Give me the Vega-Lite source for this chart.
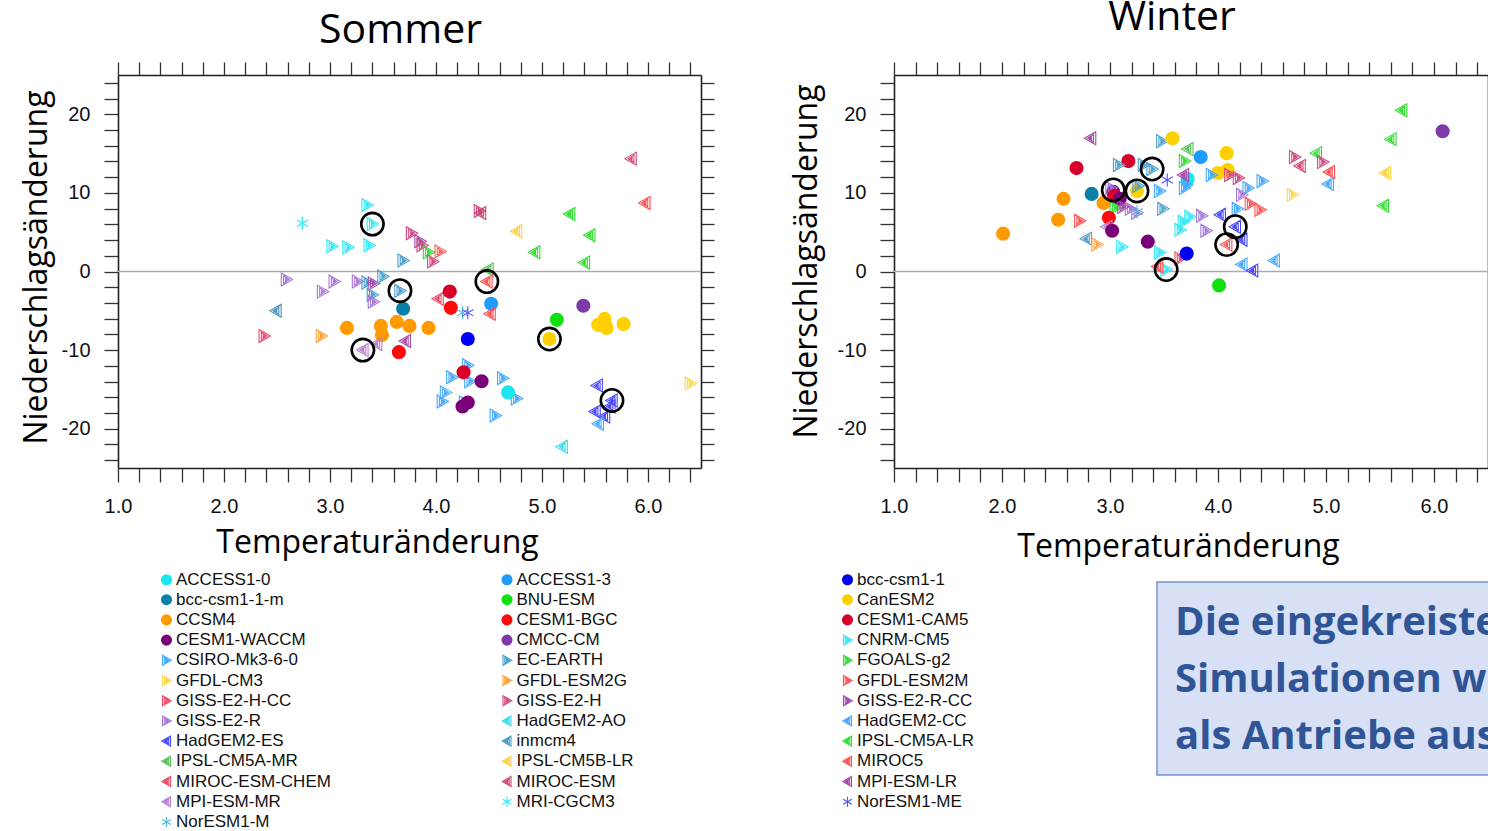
{
"$schema": "https://vega.github.io/schema/vega-lite/v6.json",
"autosize": {"type": "none"},
"padding": {"left": 118, "top": 75, "right": 1370, "bottom": 756},
"background": "white",
"config": {
  "view": {"stroke": null},
  "axis": {"domainColor": "#222", "domainWidth": 1.6, "tickColor": "#333", "tickWidth": 1.3, "grid": false,
    "labelFont": "Liberation Sans", "labelFontSize": 20, "labelColor": "#111", "labelOverlap": false, "labelFlush": false,
    "titleFont": "Open Sans", "titleFontSize": 32, "titleFontWeight": "normal", "titleColor": "#000"},
  "legend": {"symbolLimit": 60}
},
"datasets": {
  "sommer": [
    {"m":"MRI-CGCM3","t":2.74,"p":6.15},{"m":"CNRM-CM5","t":3.35,"p":8.46},{"m":"CNRM-CM5","t":3.40,"p":6.03},
    {"m":"CNRM-CM5","t":3.02,"p":3.21},{"m":"CNRM-CM5","t":3.17,"p":3.08},{"m":"CNRM-CM5","t":3.37,"p":3.33},
    {"m":"GISS-E2-H","t":3.77,"p":4.87},{"m":"GISS-E2-R-CC","t":3.85,"p":3.85},{"m":"GISS-E2-H","t":3.87,"p":3.33},
    {"m":"FGOALS-g2","t":3.93,"p":2.44},{"m":"GFDL-ESM2M","t":4.04,"p":2.56},{"m":"GISS-E2-H","t":3.97,"p":1.28},
    {"m":"GISS-E2-H","t":4.41,"p":7.69},{"m":"MIROC-ESM","t":4.42,"p":7.44},{"m":"IPSL-CM5B-LR","t":4.76,"p":5.13},
    {"m":"IPSL-CM5A-LR","t":5.26,"p":7.31},{"m":"IPSL-CM5A-LR","t":5.45,"p":4.62},{"m":"IPSL-CM5A-LR","t":4.93,"p":2.44},
    {"m":"IPSL-CM5A-LR","t":5.40,"p":1.15},{"m":"MIROC-ESM","t":5.84,"p":14.36},{"m":"MIROC5","t":5.97,"p":8.72},
    {"m":"EC-EARTH","t":3.69,"p":1.41},{"m":"GISS-E2-R","t":2.59,"p":-1.03},{"m":"GISS-E2-R","t":3.04,"p":-1.28},
    {"m":"GISS-E2-R","t":2.93,"p":-2.56},{"m":"GISS-E2-R","t":3.26,"p":-1.28},{"m":"EC-EARTH","t":3.35,"p":-1.41},
    {"m":"GISS-E2-R-CC","t":3.41,"p":-1.54},{"m":"EC-EARTH","t":3.50,"p":-0.64},{"m":"EC-EARTH","t":3.66,"p":-2.44},
    {"m":"EC-EARTH","t":3.40,"p":-2.95},{"m":"GISS-E2-R","t":3.41,"p":-3.85},{"m":"inmcm4","t":2.49,"p":-5.0},
    {"m":"bcc-csm1-1-m","t":3.69,"p":-4.74},{"m":"CCSM4","t":3.16,"p":-7.18},{"m":"CCSM4","t":3.48,"p":-6.92},
    {"m":"CCSM4","t":3.49,"p":-8.08},{"m":"CCSM4","t":3.63,"p":-6.41},{"m":"CCSM4","t":3.75,"p":-6.92},
    {"m":"CCSM4","t":3.93,"p":-7.18},{"m":"GISS-E2-H-CC","t":2.38,"p":-8.21},{"m":"GFDL-ESM2G","t":2.92,"p":-8.21},
    {"m":"MPI-ESM-MR","t":3.31,"p":-10.0},{"m":"MPI-ESM-MR","t":3.44,"p":-9.23},{"m":"MPI-ESM-LR","t":3.71,"p":-8.85},
    {"m":"CESM1-BGC","t":3.65,"p":-10.26},{"m":"IPSL-CM5A-MR","t":4.49,"p":0.26},{"m":"MIROC5","t":4.48,"p":-1.28},
    {"m":"MIROC-ESM-CHEM","t":4.02,"p":-3.46},{"m":"CESM1-CAM5","t":4.13,"p":-2.56},{"m":"CESM1-BGC","t":4.14,"p":-4.62},
    {"m":"NorESM1-M","t":4.25,"p":-5.26},{"m":"NorESM1-ME","t":4.30,"p":-5.26},{"m":"ACCESS1-3","t":4.52,"p":-4.10},
    {"m":"MIROC5","t":4.51,"p":-5.38},{"m":"bcc-csm1-1","t":4.30,"p":-8.59},{"m":"BNU-ESM","t":5.14,"p":-6.15},
    {"m":"CMCC-CM","t":5.39,"p":-4.36},{"m":"CanESM2","t":5.07,"p":-8.59},{"m":"CanESM2","t":5.53,"p":-6.79},
    {"m":"CanESM2","t":5.59,"p":-6.03},{"m":"CanESM2","t":5.61,"p":-7.18},{"m":"CanESM2","t":5.77,"p":-6.67},
    {"m":"GFDL-CM3","t":6.40,"p":-14.23},
    {"m":"CSIRO-Mk3-6-0","t":4.30,"p":-11.92},{"m":"CSIRO-Mk3-6-0","t":4.15,"p":-13.46},{"m":"CSIRO-Mk3-6-0","t":4.32,"p":-13.97},
    {"m":"CSIRO-Mk3-6-0","t":4.63,"p":-13.59},{"m":"CSIRO-Mk3-6-0","t":4.09,"p":-15.38},{"m":"CSIRO-Mk3-6-0","t":4.06,"p":-16.54},
    {"m":"CSIRO-Mk3-6-0","t":4.27,"p":-16.67},{"m":"CSIRO-Mk3-6-0","t":4.76,"p":-16.15},{"m":"CSIRO-Mk3-6-0","t":4.56,"p":-18.33},
    {"m":"CESM1-CAM5","t":4.26,"p":-12.82},{"m":"CESM1-WACCM","t":4.43,"p":-13.97},{"m":"CESM1-WACCM","t":4.25,"p":-17.18},
    {"m":"CESM1-WACCM","t":4.30,"p":-16.67},{"m":"ACCESS1-0","t":4.68,"p":-15.38},{"m":"HadGEM2-AO","t":5.19,"p":-22.31},
    {"m":"HadGEM2-ES","t":5.52,"p":-14.49},{"m":"HadGEM2-ES","t":5.66,"p":-16.41},{"m":"HadGEM2-ES","t":5.50,"p":-17.82},
    {"m":"HadGEM2-ES","t":5.59,"p":-18.46},{"m":"HadGEM2-ES","t":5.64,"p":-17.18},{"m":"HadGEM2-CC","t":5.53,"p":-19.36}
  ],
  "winter": [
    {"m":"MPI-ESM-LR","t":2.82,"p":16.96},{"m":"EC-EARTH","t":3.48,"p":16.58},{"m":"CanESM2","t":3.58,"p":16.96},
    {"m":"CESM1-CAM5","t":2.69,"p":13.16},{"m":"CESM1-CAM5","t":3.17,"p":14.05},{"m":"EC-EARTH","t":3.08,"p":13.54},
    {"m":"EC-EARTH","t":3.39,"p":13.04},{"m":"EC-EARTH","t":3.31,"p":13.54},{"m":"bcc-csm1-1-m","t":2.83,"p":9.87},
    {"m":"CCSM4","t":2.57,"p":9.24},{"m":"CCSM4","t":2.94,"p":8.73},{"m":"CCSM4","t":2.52,"p":6.58},
    {"m":"CCSM4","t":2.01,"p":4.81},{"m":"CESM1-WACCM","t":3.03,"p":10.13},{"m":"GISS-E2-R","t":3.01,"p":10.63},
    {"m":"CanESM2","t":3.25,"p":10.25},{"m":"EC-EARTH","t":3.26,"p":10.89},{"m":"CESM1-CAM5","t":3.04,"p":9.62},
    {"m":"CESM1-WACCM","t":3.09,"p":9.24},{"m":"FGOALS-g2","t":3.05,"p":8.10},{"m":"GISS-E2-R","t":3.19,"p":7.97},
    {"m":"GISS-E2-R","t":3.25,"p":7.47},{"m":"GISS-E2-R-CC","t":3.12,"p":8.23},{"m":"NorESM1-ME","t":3.53,"p":11.65},
    {"m":"NorESM1-M","t":3.25,"p":7.59},{"m":"EC-EARTH","t":3.49,"p":7.97},{"m":"GFDL-ESM2M","t":2.72,"p":6.46},
    {"m":"CESM1-BGC","t":2.99,"p":6.84},{"m":"MPI-ESM-MR","t":2.97,"p":5.70},{"m":"CESM1-WACCM","t":3.02,"p":5.19},
    {"m":"CESM1-WACCM","t":3.35,"p":3.80},{"m":"inmcm4","t":2.78,"p":4.18},{"m":"GFDL-ESM2G","t":2.88,"p":3.42},
    {"m":"CNRM-CM5","t":3.11,"p":3.16},{"m":"CNRM-CM5","t":3.46,"p":2.41},{"m":"GISS-E2-H-CC","t":3.65,"p":1.65},
    {"m":"CNRM-CM5","t":3.52,"p":0.25},{"m":"MIROC5","t":3.44,"p":0.63},{"m":"ACCESS1-0","t":3.72,"p":11.77},
    {"m":"CSIRO-Mk3-6-0","t":3.71,"p":11.01},{"m":"IPSL-CM5A-LR","t":5.70,"p":20.51},{"m":"CMCC-CM","t":6.08,"p":17.85},
    {"m":"IPSL-CM5A-LR","t":5.60,"p":16.84},{"m":"IPSL-CM5A-MR","t":3.72,"p":15.57},{"m":"FGOALS-g2","t":3.69,"p":14.05},
    {"m":"ACCESS1-3","t":3.84,"p":14.56},{"m":"CanESM2","t":4.08,"p":15.06},{"m":"CanESM2","t":4.00,"p":12.53},
    {"m":"CanESM2","t":4.09,"p":12.91},{"m":"CSIRO-Mk3-6-0","t":3.94,"p":12.28},{"m":"GISS-E2-H","t":4.11,"p":12.28},
    {"m":"GISS-E2-H","t":4.19,"p":11.90},{"m":"CSIRO-Mk3-6-0","t":4.41,"p":11.52},{"m":"CSIRO-Mk3-6-0","t":4.28,"p":10.63},
    {"m":"GISS-E2-R","t":4.22,"p":9.75},{"m":"GFDL-ESM2M","t":4.30,"p":8.61},{"m":"GFDL-ESM2M","t":4.39,"p":7.85},
    {"m":"CSIRO-Mk3-6-0","t":4.18,"p":7.97},{"m":"GISS-E2-R","t":3.85,"p":7.09},{"m":"GISS-E2-R","t":3.89,"p":5.19},
    {"m":"HadGEM2-ES","t":4.02,"p":7.22},{"m":"HadGEM2-ES","t":4.16,"p":5.70},{"m":"HadGEM2-ES","t":4.22,"p":4.05},
    {"m":"MIROC5","t":4.08,"p":3.42},{"m":"bcc-csm1-1","t":3.71,"p":2.28},{"m":"HadGEM2-CC","t":4.22,"p":0.89},
    {"m":"HadGEM2-ES","t":4.32,"p":0.13},{"m":"HadGEM2-CC","t":4.52,"p":1.39},{"m":"BNU-ESM","t":4.01,"p":-1.77},
    {"m":"GISS-E2-H","t":4.71,"p":14.56},{"m":"MIROC-ESM","t":4.76,"p":13.42},{"m":"IPSL-CM5A-LR","t":4.91,"p":15.06},
    {"m":"GISS-E2-H","t":4.97,"p":13.92},{"m":"MIROC5","t":5.03,"p":12.66},{"m":"HadGEM2-CC","t":5.02,"p":11.14},
    {"m":"GFDL-CM3","t":4.69,"p":9.75},{"m":"IPSL-CM5B-LR","t":5.55,"p":12.53},{"m":"IPSL-CM5A-LR","t":5.53,"p":8.35},
    {"m":"CNRM-CM5","t":3.68,"p":6.33},{"m":"CNRM-CM5","t":3.74,"p":6.96},{"m":"CNRM-CM5","t":3.65,"p":5.32},
    {"m":"CSIRO-Mk3-6-0","t":3.46,"p":10.25},{"m":"CSIRO-Mk3-6-0","t":3.69,"p":10.63},{"m":"MPI-ESM-LR","t":3.68,"p":12.28}
  ],
  "ringS": [
    {"t":3.40,"p":6.03},{"t":3.66,"p":-2.44},{"t":4.48,"p":-1.28},{"t":3.31,"p":-10.0},{"t":5.07,"p":-8.59},{"t":5.66,"p":-16.41}
  ],
  "ringW": [
    {"t":3.03,"p":10.38},{"t":3.25,"p":10.25},{"t":3.39,"p":13.04},{"t":3.52,"p":0.25},{"t":4.16,"p":5.70},{"t":4.08,"p":3.42}
  ],
  "one": [{}]
},
"hconcat": [
  {
    "width": 583, "height": 393,
    "title": {"text": "Sommer", "orient": "top", "font": "Open Sans", "fontSize": 41, "fontWeight": "normal", "color": "#000", "baseline": "bottom", "offset": -32, "dx": -9, "anchor": "middle"},
    "resolve": {"axis": {"x": "independent", "y": "independent"}},
    "layer": [
      {"data": {"name": "one"}, "mark": {"type": "rule", "color": "#aaaaaa", "strokeWidth": 1.5},
       "encoding": {"y": {"datum": 0, "type": "quantitative", "scale": {"domain": [-25, 25], "nice": false, "zero": false}, "axis": null}}},
      {"data": {"name": "sommer"},
       "mark": {"type": "point", "filled": false, "strokeWidth": 1.1, "size": 170, "opacity": 1},
       "encoding": {
         "x": {"field": "t", "type": "quantitative", "scale": {"domain": [1, 6.5], "nice": false, "zero": false},
           "axis": {"orient": "bottom", "values": [1,1.2,1.4,1.6,1.8,2,2.2,2.4,2.6,2.8,3,3.2,3.4,3.6,3.8,4,4.2,4.4,4.6,4.8,5,5.2,5.4,5.6,5.8,6,6.2,6.4],
             "labelExpr": "datum.value % 1 === 0 ? datum.value + '.0' : ''", "tickSize": 14, "labelPadding": 14,
             "title": "Temperaturänderung", "titleX": 259, "titleY": 84, "titleAlign": "center", "titleBaseline": "alphabetic",
             "encode": {"ticks": {"y2": {"condition": {"test": "datum.value % 1 !== 0", "value": 7}, "value": 14}}}}},
         "y": {"field": "p", "type": "quantitative", "scale": {"domain": [-25, 25], "nice": false, "zero": false},
           "axis": {"orient": "left", "values": [-24,-22,-20,-18,-16,-14,-12,-10,-8,-6,-4,-2,0,2,4,6,8,10,12,14,16,18,20,22,24],
             "labelExpr": "datum.value % 10 === 0 ? '' + datum.value : ''", "tickSize": 14, "labelPadding": 14,
             "title": "Niederschlagsänderung", "titleX": -72, "titleY": 192, "titleAngle": -90, "titleAlign": "center", "titleBaseline": "alphabetic",
             "encode": {"ticks": {"x2": {"condition": {"test": "datum.value % 10 !== 0", "value": -7}, "value": -14}}}}},
         "color": {"field": "m", "type": "nominal",
           "scale": {"domain": ["ACCESS1-0","ACCESS1-3","bcc-csm1-1","bcc-csm1-1-m","BNU-ESM","CanESM2","CCSM4","CESM1-BGC","CESM1-CAM5","CESM1-WACCM","CMCC-CM","CNRM-CM5","CSIRO-Mk3-6-0","EC-EARTH","FGOALS-g2","GFDL-CM3","GFDL-ESM2G","GFDL-ESM2M","GISS-E2-H-CC","GISS-E2-H","GISS-E2-R-CC","GISS-E2-R","HadGEM2-AO","HadGEM2-CC","HadGEM2-ES","inmcm4","IPSL-CM5A-LR","IPSL-CM5A-MR","IPSL-CM5B-LR","MIROC5","MIROC-ESM-CHEM","MIROC-ESM","MPI-ESM-LR","MPI-ESM-MR","MRI-CGCM3","NorESM1-ME","NorESM1-M"],
             "range": ["#19E6F0","#1E9BFF","#0000F5","#0A80A8","#10E010","#FFD000","#FF9A00","#FF0A0A","#D8002A","#7A007A","#7F3AAA","#33E8F5","#44A8FF","#4AA0CC","#33DD33","#FFD84A","#FFA040","#FF5555","#F04868","#D04A82","#A04AB0","#A878D8","#30E0F0","#48A8FF","#4848FF","#4A98C0","#30E030","#58C058","#FFD040","#FF5050","#F04A6A","#D04A78","#A84AA8","#B880D0","#30E8F5","#5050FF","#50B8D8"]},
           "legend": {"orient": "none", "legendX": 40, "legendY": 496, "columns": 3, "gridAlign": "all", "columnPadding": 167.5, "rowPadding": 2.2, "title": null, "direction": "horizontal", "symbolLimit": 60,
             "labelFont": "Liberation Sans", "labelFontSize": 17, "labelColor": "#111", "symbolSize": 100, "symbolStrokeWidth": 1.1, "labelOffset": 1, "symbolOpacity": 1}},
         "shape": {"field": "m", "type": "nominal",
           "scale": {"domain": ["ACCESS1-0","ACCESS1-3","bcc-csm1-1","bcc-csm1-1-m","BNU-ESM","CanESM2","CCSM4","CESM1-BGC","CESM1-CAM5","CESM1-WACCM","CMCC-CM","CNRM-CM5","CSIRO-Mk3-6-0","EC-EARTH","FGOALS-g2","GFDL-CM3","GFDL-ESM2G","GFDL-ESM2M","GISS-E2-H-CC","GISS-E2-H","GISS-E2-R-CC","GISS-E2-R","HadGEM2-AO","HadGEM2-CC","HadGEM2-ES","inmcm4","IPSL-CM5A-LR","IPSL-CM5A-MR","IPSL-CM5B-LR","MIROC5","MIROC-ESM-CHEM","MIROC-ESM","MPI-ESM-LR","MPI-ESM-MR","MRI-CGCM3","NorESM1-ME","NorESM1-M"],
             "range": [
              "M1,0A1,1,0,1,1,-1,0A1,1,0,1,1,1,0Z M0.84,0A0.84,0.84,0,1,1,-0.84,0A0.84,0.84,0,1,1,0.84,0Z M0.68,0A0.68,0.68,0,1,1,-0.68,0A0.68,0.68,0,1,1,0.68,0Z M0.52,0A0.52,0.52,0,1,1,-0.52,0A0.52,0.52,0,1,1,0.52,0Z M0.36,0A0.36,0.36,0,1,1,-0.36,0A0.36,0.36,0,1,1,0.36,0Z M0.2,0A0.2,0.2,0,1,1,-0.2,0A0.2,0.2,0,1,1,0.2,0Z M0.06,0A0.06,0.06,0,1,1,-0.06,0A0.06,0.06,0,1,1,0.06,0Z",
              "M1,0A1,1,0,1,1,-1,0A1,1,0,1,1,1,0Z M0.84,0A0.84,0.84,0,1,1,-0.84,0A0.84,0.84,0,1,1,0.84,0Z M0.68,0A0.68,0.68,0,1,1,-0.68,0A0.68,0.68,0,1,1,0.68,0Z M0.52,0A0.52,0.52,0,1,1,-0.52,0A0.52,0.52,0,1,1,0.52,0Z M0.36,0A0.36,0.36,0,1,1,-0.36,0A0.36,0.36,0,1,1,0.36,0Z M0.2,0A0.2,0.2,0,1,1,-0.2,0A0.2,0.2,0,1,1,0.2,0Z M0.06,0A0.06,0.06,0,1,1,-0.06,0A0.06,0.06,0,1,1,0.06,0Z",
              "M1,0A1,1,0,1,1,-1,0A1,1,0,1,1,1,0Z M0.84,0A0.84,0.84,0,1,1,-0.84,0A0.84,0.84,0,1,1,0.84,0Z M0.68,0A0.68,0.68,0,1,1,-0.68,0A0.68,0.68,0,1,1,0.68,0Z M0.52,0A0.52,0.52,0,1,1,-0.52,0A0.52,0.52,0,1,1,0.52,0Z M0.36,0A0.36,0.36,0,1,1,-0.36,0A0.36,0.36,0,1,1,0.36,0Z M0.2,0A0.2,0.2,0,1,1,-0.2,0A0.2,0.2,0,1,1,0.2,0Z M0.06,0A0.06,0.06,0,1,1,-0.06,0A0.06,0.06,0,1,1,0.06,0Z",
              "M1,0A1,1,0,1,1,-1,0A1,1,0,1,1,1,0Z M0.84,0A0.84,0.84,0,1,1,-0.84,0A0.84,0.84,0,1,1,0.84,0Z M0.68,0A0.68,0.68,0,1,1,-0.68,0A0.68,0.68,0,1,1,0.68,0Z M0.52,0A0.52,0.52,0,1,1,-0.52,0A0.52,0.52,0,1,1,0.52,0Z M0.36,0A0.36,0.36,0,1,1,-0.36,0A0.36,0.36,0,1,1,0.36,0Z M0.2,0A0.2,0.2,0,1,1,-0.2,0A0.2,0.2,0,1,1,0.2,0Z M0.06,0A0.06,0.06,0,1,1,-0.06,0A0.06,0.06,0,1,1,0.06,0Z",
              "M1,0A1,1,0,1,1,-1,0A1,1,0,1,1,1,0Z M0.84,0A0.84,0.84,0,1,1,-0.84,0A0.84,0.84,0,1,1,0.84,0Z M0.68,0A0.68,0.68,0,1,1,-0.68,0A0.68,0.68,0,1,1,0.68,0Z M0.52,0A0.52,0.52,0,1,1,-0.52,0A0.52,0.52,0,1,1,0.52,0Z M0.36,0A0.36,0.36,0,1,1,-0.36,0A0.36,0.36,0,1,1,0.36,0Z M0.2,0A0.2,0.2,0,1,1,-0.2,0A0.2,0.2,0,1,1,0.2,0Z M0.06,0A0.06,0.06,0,1,1,-0.06,0A0.06,0.06,0,1,1,0.06,0Z",
              "M1,0A1,1,0,1,1,-1,0A1,1,0,1,1,1,0Z M0.84,0A0.84,0.84,0,1,1,-0.84,0A0.84,0.84,0,1,1,0.84,0Z M0.68,0A0.68,0.68,0,1,1,-0.68,0A0.68,0.68,0,1,1,0.68,0Z M0.52,0A0.52,0.52,0,1,1,-0.52,0A0.52,0.52,0,1,1,0.52,0Z M0.36,0A0.36,0.36,0,1,1,-0.36,0A0.36,0.36,0,1,1,0.36,0Z M0.2,0A0.2,0.2,0,1,1,-0.2,0A0.2,0.2,0,1,1,0.2,0Z M0.06,0A0.06,0.06,0,1,1,-0.06,0A0.06,0.06,0,1,1,0.06,0Z",
              "M1,0A1,1,0,1,1,-1,0A1,1,0,1,1,1,0Z M0.84,0A0.84,0.84,0,1,1,-0.84,0A0.84,0.84,0,1,1,0.84,0Z M0.68,0A0.68,0.68,0,1,1,-0.68,0A0.68,0.68,0,1,1,0.68,0Z M0.52,0A0.52,0.52,0,1,1,-0.52,0A0.52,0.52,0,1,1,0.52,0Z M0.36,0A0.36,0.36,0,1,1,-0.36,0A0.36,0.36,0,1,1,0.36,0Z M0.2,0A0.2,0.2,0,1,1,-0.2,0A0.2,0.2,0,1,1,0.2,0Z M0.06,0A0.06,0.06,0,1,1,-0.06,0A0.06,0.06,0,1,1,0.06,0Z",
              "M1,0A1,1,0,1,1,-1,0A1,1,0,1,1,1,0Z M0.84,0A0.84,0.84,0,1,1,-0.84,0A0.84,0.84,0,1,1,0.84,0Z M0.68,0A0.68,0.68,0,1,1,-0.68,0A0.68,0.68,0,1,1,0.68,0Z M0.52,0A0.52,0.52,0,1,1,-0.52,0A0.52,0.52,0,1,1,0.52,0Z M0.36,0A0.36,0.36,0,1,1,-0.36,0A0.36,0.36,0,1,1,0.36,0Z M0.2,0A0.2,0.2,0,1,1,-0.2,0A0.2,0.2,0,1,1,0.2,0Z M0.06,0A0.06,0.06,0,1,1,-0.06,0A0.06,0.06,0,1,1,0.06,0Z",
              "M1,0A1,1,0,1,1,-1,0A1,1,0,1,1,1,0Z M0.84,0A0.84,0.84,0,1,1,-0.84,0A0.84,0.84,0,1,1,0.84,0Z M0.68,0A0.68,0.68,0,1,1,-0.68,0A0.68,0.68,0,1,1,0.68,0Z M0.52,0A0.52,0.52,0,1,1,-0.52,0A0.52,0.52,0,1,1,0.52,0Z M0.36,0A0.36,0.36,0,1,1,-0.36,0A0.36,0.36,0,1,1,0.36,0Z M0.2,0A0.2,0.2,0,1,1,-0.2,0A0.2,0.2,0,1,1,0.2,0Z M0.06,0A0.06,0.06,0,1,1,-0.06,0A0.06,0.06,0,1,1,0.06,0Z",
              "M1,0A1,1,0,1,1,-1,0A1,1,0,1,1,1,0Z M0.84,0A0.84,0.84,0,1,1,-0.84,0A0.84,0.84,0,1,1,0.84,0Z M0.68,0A0.68,0.68,0,1,1,-0.68,0A0.68,0.68,0,1,1,0.68,0Z M0.52,0A0.52,0.52,0,1,1,-0.52,0A0.52,0.52,0,1,1,0.52,0Z M0.36,0A0.36,0.36,0,1,1,-0.36,0A0.36,0.36,0,1,1,0.36,0Z M0.2,0A0.2,0.2,0,1,1,-0.2,0A0.2,0.2,0,1,1,0.2,0Z M0.06,0A0.06,0.06,0,1,1,-0.06,0A0.06,0.06,0,1,1,0.06,0Z",
              "M1,0A1,1,0,1,1,-1,0A1,1,0,1,1,1,0Z M0.84,0A0.84,0.84,0,1,1,-0.84,0A0.84,0.84,0,1,1,0.84,0Z M0.68,0A0.68,0.68,0,1,1,-0.68,0A0.68,0.68,0,1,1,0.68,0Z M0.52,0A0.52,0.52,0,1,1,-0.52,0A0.52,0.52,0,1,1,0.52,0Z M0.36,0A0.36,0.36,0,1,1,-0.36,0A0.36,0.36,0,1,1,0.36,0Z M0.2,0A0.2,0.2,0,1,1,-0.2,0A0.2,0.2,0,1,1,0.2,0Z M0.06,0A0.06,0.06,0,1,1,-0.06,0A0.06,0.06,0,1,1,0.06,0Z",
              "M-0.8,-1L0.95,0L-0.8,1Z M-0.45,-0.58L0.45,0L-0.45,0.58Z M-0.15,-0.2L0.12,0L-0.15,0.2Z",
              "M-0.8,-1L0.95,0L-0.8,1Z M-0.45,-0.58L0.45,0L-0.45,0.58Z M-0.15,-0.2L0.12,0L-0.15,0.2Z",
              "M-0.8,-1L0.95,0L-0.8,1Z M-0.45,-0.58L0.45,0L-0.45,0.58Z M-0.15,-0.2L0.12,0L-0.15,0.2Z",
              "M-0.8,-1L0.95,0L-0.8,1Z M-0.45,-0.58L0.45,0L-0.45,0.58Z M-0.15,-0.2L0.12,0L-0.15,0.2Z",
              "M-0.8,-1L0.95,0L-0.8,1Z M-0.45,-0.58L0.45,0L-0.45,0.58Z M-0.15,-0.2L0.12,0L-0.15,0.2Z",
              "M-0.8,-1L0.95,0L-0.8,1Z M-0.45,-0.58L0.45,0L-0.45,0.58Z M-0.15,-0.2L0.12,0L-0.15,0.2Z",
              "M-0.8,-1L0.95,0L-0.8,1Z M-0.45,-0.58L0.45,0L-0.45,0.58Z M-0.15,-0.2L0.12,0L-0.15,0.2Z",
              "M-0.8,-1L0.95,0L-0.8,1Z M-0.45,-0.58L0.45,0L-0.45,0.58Z M-0.15,-0.2L0.12,0L-0.15,0.2Z",
              "M-0.8,-1L0.95,0L-0.8,1Z M-0.45,-0.58L0.45,0L-0.45,0.58Z M-0.15,-0.2L0.12,0L-0.15,0.2Z",
              "M-0.8,-1L0.95,0L-0.8,1Z M-0.45,-0.58L0.45,0L-0.45,0.58Z M-0.15,-0.2L0.12,0L-0.15,0.2Z",
              "M-0.8,-1L0.95,0L-0.8,1Z M-0.45,-0.58L0.45,0L-0.45,0.58Z M-0.15,-0.2L0.12,0L-0.15,0.2Z",
              "M0.8,-1L-0.95,0L0.8,1Z M0.45,-0.58L-0.45,0L0.45,0.58Z M0.15,-0.2L-0.12,0L0.15,0.2Z",
              "M0.8,-1L-0.95,0L0.8,1Z M0.45,-0.58L-0.45,0L0.45,0.58Z M0.15,-0.2L-0.12,0L0.15,0.2Z",
              "M0.8,-1L-0.95,0L0.8,1Z M0.45,-0.58L-0.45,0L0.45,0.58Z M0.15,-0.2L-0.12,0L0.15,0.2Z",
              "M0.8,-1L-0.95,0L0.8,1Z M0.45,-0.58L-0.45,0L0.45,0.58Z M0.15,-0.2L-0.12,0L0.15,0.2Z",
              "M0.8,-1L-0.95,0L0.8,1Z M0.45,-0.58L-0.45,0L0.45,0.58Z M0.15,-0.2L-0.12,0L0.15,0.2Z",
              "M0.8,-1L-0.95,0L0.8,1Z M0.45,-0.58L-0.45,0L0.45,0.58Z M0.15,-0.2L-0.12,0L0.15,0.2Z",
              "M0.8,-1L-0.95,0L0.8,1Z M0.45,-0.58L-0.45,0L0.45,0.58Z M0.15,-0.2L-0.12,0L0.15,0.2Z",
              "M0.8,-1L-0.95,0L0.8,1Z M0.45,-0.58L-0.45,0L0.45,0.58Z M0.15,-0.2L-0.12,0L0.15,0.2Z",
              "M0.8,-1L-0.95,0L0.8,1Z M0.45,-0.58L-0.45,0L0.45,0.58Z M0.15,-0.2L-0.12,0L0.15,0.2Z",
              "M0.8,-1L-0.95,0L0.8,1Z M0.45,-0.58L-0.45,0L0.45,0.58Z M0.15,-0.2L-0.12,0L0.15,0.2Z",
              "M0.8,-1L-0.95,0L0.8,1Z M0.45,-0.58L-0.45,0L0.45,0.58Z M0.15,-0.2L-0.12,0L0.15,0.2Z",
              "M0.8,-1L-0.95,0L0.8,1Z M0.45,-0.58L-0.45,0L0.45,0.58Z M0.15,-0.2L-0.12,0L0.15,0.2Z",
              "M0,-1L0,1M-0.87,-0.5L0.87,0.5M-0.87,0.5L0.87,-0.5",
              "M0,-1L0,1M-0.87,-0.5L0.87,0.5M-0.87,0.5L0.87,-0.5",
              "M0,-1L0,1M-0.87,-0.5L0.87,0.5M-0.87,0.5L0.87,-0.5"
             ]},
           "legend": {"orient": "none", "legendX": 40, "legendY": 496, "columns": 3, "gridAlign": "all", "columnPadding": 167.5, "rowPadding": 2.2, "title": null, "direction": "horizontal", "symbolLimit": 60,
             "labelFont": "Liberation Sans", "labelFontSize": 17, "labelColor": "#111", "symbolSize": 100, "symbolStrokeWidth": 1.1, "labelOffset": 1, "symbolOpacity": 1}}
       }},
      {"data": {"name": "ringS"},
       "mark": {"type": "point", "shape": "circle", "filled": false, "size": 500, "strokeWidth": 2.6, "color": "#000", "opacity": 1},
       "encoding": {
         "x": {"field": "t", "type": "quantitative", "scale": {"domain": [1, 6.5], "nice": false, "zero": false},
           "axis": {"orient": "top", "values": [1,1.2,1.4,1.6,1.8,2,2.2,2.4,2.6,2.8,3,3.2,3.4,3.6,3.8,4,4.2,4.4,4.6,4.8,5,5.2,5.4,5.6,5.8,6,6.2,6.4],
             "labels": false, "tickSize": 13, "title": null,
             "encode": {"ticks": {"y2": {"condition": {"test": "datum.value % 1 !== 0", "value": -7}, "value": -13}}}}},
         "y": {"field": "p", "type": "quantitative", "scale": {"domain": [-25, 25], "nice": false, "zero": false},
           "axis": {"orient": "right", "values": [-24,-22,-20,-18,-16,-14,-12,-10,-8,-6,-4,-2,0,2,4,6,8,10,12,14,16,18,20,22,24],
             "labels": false, "tickSize": 13, "title": null,
             "encode": {"ticks": {"x2": {"condition": {"test": "datum.value % 10 !== 0", "value": 7}, "value": 13}}}}}
       }}
    ]
  },
  {
    "width": 594, "height": 393,
    "title": {"text": "Winter", "orient": "top", "font": "Open Sans", "fontSize": 41, "fontWeight": "normal", "color": "#000", "baseline": "bottom", "offset": -19, "dx": -19, "anchor": "middle"},
    "resolve": {"axis": {"x": "independent", "y": "independent"}},
    "layer": [
      {"data": {"name": "one"}, "mark": {"type": "rule", "color": "#aaaaaa", "strokeWidth": 1.5},
       "encoding": {"y": {"datum": 0, "type": "quantitative", "scale": {"domain": [-25, 25], "nice": false, "zero": false}, "axis": null}}},
      {"data": {"name": "winter"},
       "mark": {"type": "point", "filled": false, "strokeWidth": 1.1, "size": 170, "opacity": 1},
       "encoding": {
         "x": {"field": "t", "type": "quantitative", "scale": {"domain": [1, 6.5], "nice": false, "zero": false},
           "axis": {"orient": "bottom", "values": [1,1.2,1.4,1.6,1.8,2,2.2,2.4,2.6,2.8,3,3.2,3.4,3.6,3.8,4,4.2,4.4,4.6,4.8,5,5.2,5.4,5.6,5.8,6,6.2,6.4],
             "labelExpr": "datum.value % 1 === 0 ? datum.value + '.0' : ''", "tickSize": 14, "labelPadding": 14,
             "title": "Temperaturänderung", "titleX": 284, "titleY": 88, "titleAlign": "center", "titleBaseline": "alphabetic",
             "encode": {"ticks": {"y2": {"condition": {"test": "datum.value % 1 !== 0", "value": 7}, "value": 14}}}}},
         "y": {"field": "p", "type": "quantitative", "scale": {"domain": [-25, 25], "nice": false, "zero": false},
           "axis": {"orient": "left", "values": [-24,-22,-20,-18,-16,-14,-12,-10,-8,-6,-4,-2,0,2,4,6,8,10,12,14,16,18,20,22,24],
             "labelExpr": "datum.value % 10 === 0 ? '' + datum.value : ''", "tickSize": 14, "labelPadding": 14,
             "title": "Niederschlagsänderung", "titleX": -78, "titleY": 186, "titleAngle": -90, "titleAlign": "center", "titleBaseline": "alphabetic",
             "encode": {"ticks": {"x2": {"condition": {"test": "datum.value % 10 !== 0", "value": -7}, "value": -14}}}}},
         "color": {"field": "m", "type": "nominal",
           "legend": {"orient": "none", "legendX": 40, "legendY": 496, "columns": 3, "gridAlign": "all", "columnPadding": 167.5, "rowPadding": 2.2, "title": null, "direction": "horizontal", "symbolLimit": 60,
             "labelFont": "Liberation Sans", "labelFontSize": 17, "labelColor": "#111", "symbolSize": 100, "symbolStrokeWidth": 1.1, "labelOffset": 1, "symbolOpacity": 1}},
         "shape": {"field": "m", "type": "nominal",
           "legend": {"orient": "none", "legendX": 40, "legendY": 496, "columns": 3, "gridAlign": "all", "columnPadding": 167.5, "rowPadding": 2.2, "title": null, "direction": "horizontal", "symbolLimit": 60,
             "labelFont": "Liberation Sans", "labelFontSize": 17, "labelColor": "#111", "symbolSize": 100, "symbolStrokeWidth": 1.1, "labelOffset": 1, "symbolOpacity": 1}}
       }},
      {"data": {"name": "ringW"},
       "mark": {"type": "point", "shape": "circle", "filled": false, "size": 500, "strokeWidth": 2.6, "color": "#000", "opacity": 1},
       "encoding": {
         "x": {"field": "t", "type": "quantitative", "scale": {"domain": [1, 6.5], "nice": false, "zero": false},
           "axis": {"orient": "top", "values": [1,1.2,1.4,1.6,1.8,2,2.2,2.4,2.6,2.8,3,3.2,3.4,3.6,3.8,4,4.2,4.4,4.6,4.8,5,5.2,5.4,5.6,5.8,6,6.2,6.4],
             "labels": false, "tickSize": 13, "title": null,
             "encode": {"ticks": {"y2": {"condition": {"test": "datum.value % 1 !== 0", "value": -7}, "value": -13}}}}},
         "y": {"field": "p", "type": "quantitative", "scale": {"domain": [-25, 25], "nice": false, "zero": false},
           "axis": {"orient": "right", "values": [-24,-22,-20,-18,-16,-14,-12,-10,-8,-6,-4,-2,0,2,4,6,8,10,12,14,16,18,20,22,24],
             "labels": false, "tickSize": 13, "title": null,
             "encode": {"ticks": {"x2": {"condition": {"test": "datum.value % 10 !== 0", "value": 7}, "value": 13}}}}}
       }},
      {"data": {"name": "one"},
       "mark": {"type": "rect", "fill": "#D7E0F4", "stroke": "#7094D0", "strokeWidth": 1.5, "clip": false},
       "encoding": {"x": {"datum": 3.435, "type": "quantitative", "axis": null}, "x2": {"datum": 7.2},
                    "y": {"datum": -39.5, "type": "quantitative", "axis": null}, "y2": {"datum": -64.06}}},
      {"data": {"name": "one"},
       "mark": {"type": "text", "text": ["Die eingekreisten", "Simulationen wurden", "als Antriebe ausgewählt"], "lineHeight": 57,
                "font": "Open Sans", "fontSize": 40, "fontWeight": "bold", "color": "#2F5597", "align": "left", "baseline": "alphabetic", "clip": false},
       "encoding": {"x": {"datum": 3.602, "type": "quantitative", "axis": null}, "y": {"datum": -46.25, "type": "quantitative", "axis": null}}}
    ]
  }
],
"spacing": 193,
"bounds": "flush"
}
